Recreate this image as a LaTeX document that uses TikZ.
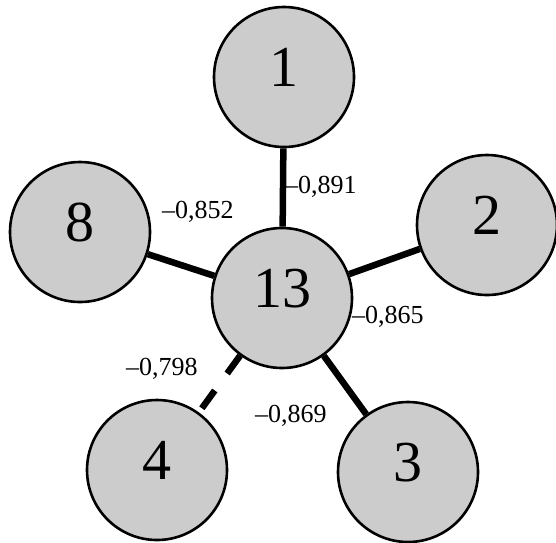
\documentclass[tikz,border=0pt]{standalone}
\usepackage{fontspec}
\setmainfont{Liberation Serif}
\begin{document}
\begin{tikzpicture}[x=1pt,y=-1pt,
  circ/.style={circle,draw=black,line width=2.6pt,fill=black!20,minimum size=140pt,inner sep=0pt,
    font=\fontsize{58}{58}\selectfont,text depth=20pt},
  link/.style={line width=6.5pt},
  lbl/.style={font=\fontsize{26}{26}\selectfont,inner sep=0pt,anchor=base west}]
\useasboundingbox (0,0) rectangle (556,542);
\node[circ] (n13) at (282,298) {13};
\node[circ] (n1) at (284,77) {1};
\node[circ] (n8) at (80,232) {8};
\node[circ] (n2) at (487,225) {2};
\node[circ] (n4) at (157,470) {4};
\node[circ] (n3) at (408,472) {3};
\draw[link] (n13) -- (n1);
\draw[link] (n13) -- (n8);
\draw[link] (n13) -- (n2);
\draw[link] (n13) -- (n3);
\draw[link,dash pattern=on 22pt off 21pt] (n13) -- (n4);
\node[lbl] (l1) at (285,193) {--0,891};
\node[lbl] (l8) at (162,218) {--0,852};
\node[lbl] (l2) at (352,323) {--0,865};
\node[lbl] (l4) at (126,375) {--0,798};
\node[lbl] (l3) at (255,422) {--0,869};
\end{tikzpicture}
\end{document}
